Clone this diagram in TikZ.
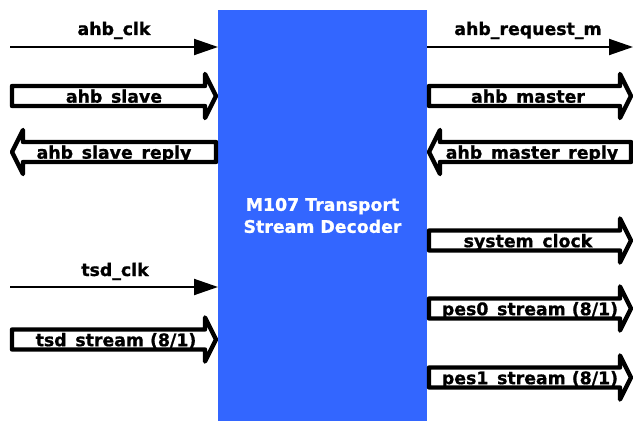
\documentclass[tikz,border=0pt]{standalone}
\usepackage{fontspec}
\setmainfont{DejaVu Sans}[BoldFeatures={FakeBold=1}]
\usetikzlibrary{arrows.meta}
\definecolor{decblue}{RGB}{51,102,255}

\begin{document}
\begin{tikzpicture}[x=0.75pt,y=-0.75pt]
            \tikzstyle{every node}+=[font=\fontsize{13}{16.5}\selectfont\bfseries]
            \tikzstyle{sig}=[black, line width=1.5pt, -{Triangle[length=18pt,width=12pt]}]
            \tikzstyle{lbl}=[inner sep=0pt, text height=12.5pt, text depth=2.5pt]
            \tikzstyle{busright}=[draw=black, fill=white, line width=3.3pt, line join=round,
              to path={([shift={(0,-10)}]\tikztostart) -- ([shift={(-11,-10)}]\tikztotarget)
                -- ([shift={(-11,-22)}]\tikztotarget) -- (\tikztotarget)
                -- ([shift={(-11,22)}]\tikztotarget) -- ([shift={(-11,10)}]\tikztotarget)
                -- ([shift={(0,10)}]\tikztostart) -- cycle}]
            \tikzstyle{busleft}=[draw=black, fill=white, line width=3.3pt, line join=round,
              to path={([shift={(0,-10)}]\tikztostart) -- ([shift={(11,-10)}]\tikztotarget)
                -- ([shift={(11,-22)}]\tikztotarget) -- (\tikztotarget)
                -- ([shift={(11,22)}]\tikztotarget) -- ([shift={(11,10)}]\tikztotarget)
                -- ([shift={(0,10)}]\tikztostart) -- cycle}]
            \useasboundingbox (0,0) rectangle (633,421);
            % decoder block
            \node [fill=decblue, text=white, align=center, inner sep=0pt, outer sep=0pt,
              minimum width=156.75pt, minimum height=308.25pt] (dec) at (322.5,215.5)
              {M107 Transport\\Stream Decoder};
            % left side
            \coordinate (ahbclk) at (10,47);
            \draw [sig] (ahbclk) -- (ahbclk -| dec.west);
            \node [anchor=base] (ahbclklabel) at (114,35) {ahb\_clk};
            \coordinate (slaveA) at (12,96);
            \coordinate (slaveB) at (216,96);
            \draw [busright] (slaveA) to (slaveB);
            \node [lbl] (slavelabel) at (114,96) {ahb\_slave};
            \coordinate (slrepA) at (216,152);
            \coordinate (slrepB) at (12,152);
            \draw [busleft] (slrepA) to (slrepB);
            \node [lbl] (slreplabel) at (114,152) {ahb\_slave\_reply};
            \coordinate (tsdclk) at (10,287);
            \draw [sig] (tsdclk) -- (tsdclk -| dec.west);
            \node [anchor=base] (tsdclklabel) at (115,276) {tsd\_clk};
            \coordinate (tsdA) at (12,339.5);
            \coordinate (tsdB) at (216,339.5);
            \draw [busright] (tsdA) to (tsdB);
            \node [lbl] (tsdlabel) at (116,339.5) {tsd\_stream (8/1)};
            % right side
            \coordinate (ahbreq) at (633,47);
            \draw [sig] (ahbreq -| dec.east) -- (ahbreq);
            \node [anchor=base] (ahbreqlabel) at (528,35) {ahb\_request\_m};
            \coordinate (masterA) at (429,96);
            \coordinate (masterB) at (631,96);
            \draw [busright] (masterA) to (masterB);
            \node [lbl] (masterlabel) at (528,96) {ahb\_master};
            \coordinate (mrepA) at (631,152);
            \coordinate (mrepB) at (429,152);
            \draw [busleft] (mrepA) to (mrepB);
            \node [lbl] (mreplabel) at (532,152) {ahb\_master\_reply};
            \coordinate (sysA) at (429,240.5);
            \coordinate (sysB) at (631,240.5);
            \draw [busright] (sysA) to (sysB);
            \node [lbl] (syslabel) at (528,240.5) {system\_clock};
            \coordinate (pesAa) at (429,308.5);
            \coordinate (pesAb) at (631,308.5);
            \draw [busright] (pesAa) to (pesAb);
            \node [lbl] (pesAlabel) at (530,308.5) {pes0\_stream (8/1)};
            \coordinate (pesBa) at (429,377.5);
            \coordinate (pesBb) at (631,377.5);
            \draw [busright] (pesBa) to (pesBb);
            \node [lbl] (pesBlabel) at (530,377.5) {pes1\_stream (8/1)};
        \end{tikzpicture}
\end{document}
